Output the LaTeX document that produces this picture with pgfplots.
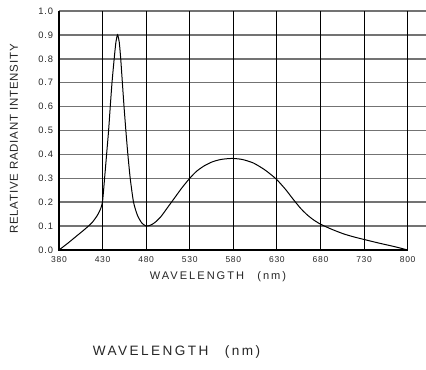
\documentclass[border=0pt]{standalone}
\usepackage{fontspec}
\setmainfont{Liberation Sans}
\newfontfamily\spaced[LetterSpace=18]{Liberation Sans}
\newfontfamily\yspaced[LetterSpace=7]{Liberation Sans}
\newfontfamily\tickf[LetterSpace=8]{Liberation Sans}
\usepackage{pgfplots}
\pgfplotsset{compat=1.18}
\begin{document}
\begin{tikzpicture}
\begin{axis}[
  scale only axis,
  width=275.25pt, height=179.25pt,
  xmin=380, xmax=801, ymin=0, ymax=1,
  axis line style={draw=none},
  major tick length=0pt,
  xtick={380,430,480,530,580,630,680,730,780},
  xticklabels={380,430,480,530,580,630,680,730,800},
  ytick={0,0.1,0.2,0.3,0.4,0.5,0.6,0.7,0.8,0.9,1.0},
  yticklabels={0.0,0.1,0.2,0.3,0.4,0.5,0.6,0.7,0.8,0.9,1.0},
  /pgf/number format/assume math mode=true,
  xticklabel style={font=\tickf\fontsize{6.4}{7}\selectfont, text=black!85, yshift=-1.5pt},
  yticklabel style={font=\tickf\fontsize{7}{8}\selectfont, text=black!85, xshift=-1pt},
  clip=false,
]
\coordinate (bl) at (rel axis cs:0,0);
\pgfplotsinvokeforeach{0.1,0.2,0.3,0.4,0.5,0.6,0.7,0.8,0.9,1.0}{
  \draw[black!55, line width=1.1pt] (axis cs:380,#1) -- (axis cs:801,#1);
}
\pgfplotsinvokeforeach{430,480,530,580,630,680,730,780}{
  \draw[black, line width=0.8pt] (axis cs:#1,0) -- (axis cs:#1,1);
}
\draw[black, line width=0.9pt] (axis cs:380,1) -- (axis cs:380,0) -- (axis cs:780,0);
\addplot[black, line width=0.75pt, smooth, tension=0.4] coordinates {
(380,0) (390,0.028) (400,0.058) (410,0.088) (418,0.115) (424,0.145) (428,0.175) (430,0.205)
(432.3,0.3) (434.6,0.4) (436.9,0.5) (438.8,0.6) (440.8,0.7) (443.3,0.8) (445.3,0.87) (447.2,0.9)
(449.1,0.87) (450.8,0.8) (452.7,0.7) (454.6,0.6) (456.7,0.5) (459,0.4) (461.7,0.3) (465.5,0.2)
(470,0.145) (475,0.113) (480,0.1) (485,0.104) (490,0.115) (497,0.14) (505,0.18) (513,0.22)
(521,0.26) (530,0.3) (538,0.33) (547,0.353) (556,0.369) (566,0.379) (578,0.383) (590,0.379)
(603,0.364) (615,0.338) (623,0.316) (630,0.294) (640,0.253) (648.5,0.213) (657,0.175) (665,0.146)
(672,0.126) (680,0.108) (692,0.088) (706,0.068) (718,0.055) (730,0.044) (748,0.028) (765,0.014) (780,0)
};
\end{axis}
\node[font=\yspaced\fontsize{8.6}{10}\selectfont, text=black!85, rotate=90] at ([shift={(-33.75pt,83.25pt)}]bl) {RELATIVE RADIANT INTENSITY};
\node[font=\spaced\fontsize{8.3}{10}\selectfont, text=black!85] at ([shift={(119.25pt,-20pt)}]bl) {WAVELENGTH\hspace{1.2em}(nm)};
\node[font=\spaced\fontsize{10.2}{12}\selectfont, text=black!85] at ([shift={(88.1pt,-76.5pt)}]bl) {WAVELENGTH\hspace{1.2em}(nm)};
\pgfresetboundingbox
\path ([shift={(-44.25pt,187.5pt)}]bl) rectangle ([shift={(275.25pt,-90pt)}]bl);
\end{tikzpicture}
\end{document}
